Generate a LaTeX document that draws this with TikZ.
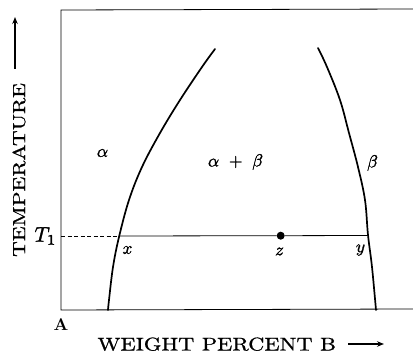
\documentclass[tikz,border=0pt]{standalone}
\usetikzlibrary{arrows.meta}
\newcommand\heavyink[2][0.15]{\special{pdf:literal direct 2 Tr #1 w}#2\special{pdf:literal direct 0 Tr}}
\begin{document}
\begin{tikzpicture}[x=1pt,y=-1pt,
  frame/.style={line width=0.8pt},
  phase/.style={line width=1.7pt, line cap=round},
  tie/.style={line width=0.8pt},
  mathlbl/.style={inner sep=0pt, scale=1.75},
  axarrow/.style={line width=1.3pt, -{Stealth[length=7pt,width=5.5pt]}}]
\useasboundingbox (0,0) rectangle (413,353);
% frame
\coordinate (tl) at (61,10);
\coordinate (bl) at (61,310);
\coordinate (tr) at (413,9);
\coordinate (br) at (413,309);
\draw[frame] (tr) -- (tl) -- (bl) -- (br);
% phase boundaries
\draw[phase] plot[smooth, tension=0.6] coordinates {(108,310) (109,300) (113,267) (119,237) (129,200) (142,167) (160,133) (180,100) (202,67) (215,49)};
\draw[phase] plot[smooth, tension=0.6] coordinates {(318,48) (327,67) (340,100) (349,133) (358,167) (365,200) (368,235) (372,267) (376,310)};
% tie line
\coordinate (x) at (119,236);
\coordinate (y) at (368,235.5);
\coordinate (t1) at (61,236);
\node[circle, fill, inner sep=0pt, minimum size=8pt] (z) at (280.7,235.7) {};
\draw[tie] (x) -- (z) -- (y);
\draw[frame, dash pattern=on 4pt off 2.5pt] (t1) -- (x);
% labels
\node[mathlbl] (lx) at (127.5,250) {\heavyink{$x$}};
\node[mathlbl] (lz) at (279.5,251.5) {\heavyink{$z$}};
\node[mathlbl] (ly) at (360.5,250) {\heavyink{$y$}};
\node[inner sep=0pt, scale=2.1] (lT) at (45.5,236) {\heavyink{$T_1$}};
\node[mathlbl] (la) at (102.5,153) {\heavyink{$\alpha$}};
\node[mathlbl] (lab) at (235.5,162) {\heavyink{$\alpha\ +\ \beta$}};
\node[mathlbl] (lb) at (372.5,163) {\heavyink{$\beta$}};
\node[inner sep=0pt, scale=1.7] (lA) at (61,325) {\bfseries A};
% axis labels
\node[inner sep=0pt, xscale=2.24, yscale=1.85, anchor=base west] (wp) at (97,350.5) {\heavyink[0.08]{WEIGHT PERCENT B}};
\coordinate (ba) at (348,344);
\coordinate (bb) at (384,344);
\draw[axarrow] (ba) -- (bb);
\node[inner sep=0pt, rotate=90, xscale=2.18, yscale=1.76] (temp) at (19,170) {\heavyink[0.08]{TEMPERATURE}};
\coordinate (ta) at (15,69);
\coordinate (tb) at (15,17);
\draw[axarrow] (ta) -- (tb);
\end{tikzpicture}
\end{document}
